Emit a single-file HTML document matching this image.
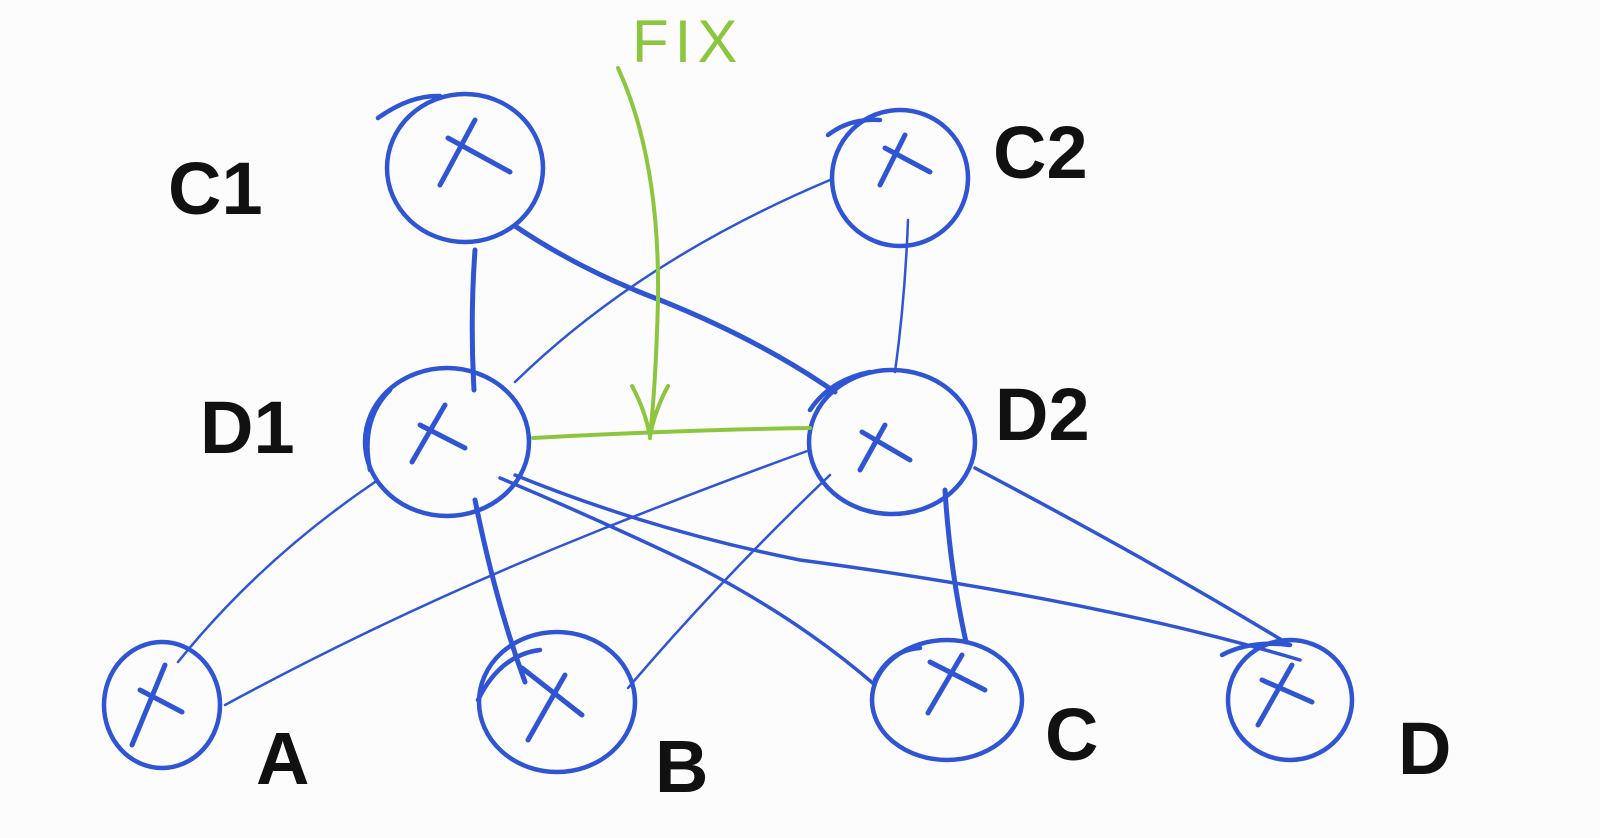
<!DOCTYPE html>
<html><head><meta charset="utf-8"><style>
html,body{margin:0;padding:0;background:#fcfcfc;}
svg{display:block}
text{font-family:"Liberation Sans",sans-serif;}
</style></head><body>
<svg width="1600" height="838" viewBox="0 0 1600 838" xmlns="http://www.w3.org/2000/svg">
<rect width="1600" height="838" fill="#fcfcfc"/>
<g fill="none" stroke="#2f55d4" stroke-linecap="round" stroke-linejoin="round">
<g stroke-width="4.5">
<ellipse cx="465" cy="168" rx="78" ry="74"/>
<path d="M378 118 Q410 95 440 96"/>
<ellipse cx="900" cy="178" rx="68" ry="68"/>
<path d="M828 135 Q850 118 880 120"/>
<ellipse cx="447" cy="442" rx="82" ry="74"/>
<path d="M370 470 Q360 420 390 390"/>
<ellipse cx="892" cy="442" rx="83" ry="72"/>
<path d="M810 410 Q830 380 870 372"/>
<ellipse cx="162" cy="705" rx="58" ry="63"/>
<ellipse cx="557" cy="702" rx="78" ry="70"/>
<path d="M478 700 Q500 655 540 650"/>
<ellipse cx="947" cy="700" rx="75" ry="60"/>
<path d="M875 680 Q890 650 920 648"/>
<ellipse cx="1290" cy="700" rx="62" ry="60"/>
<path d="M1222 655 Q1250 640 1290 645"/>
</g>
<g stroke-width="5">
<path d="M440 185 L475 120 M448 138 L510 172"/>
<path d="M880 185 L905 135 M885 148 L930 172"/>
<path d="M412 462 L445 405 M420 425 L465 448"/>
<path d="M860 470 L885 425 M862 432 L910 460"/>
<path d="M132 745 L165 665 M140 690 L182 712"/>
<path d="M528 740 L565 675 M522 668 L582 715"/>
<path d="M928 713 L962 655 M930 662 L985 690"/>
<path d="M1258 725 L1292 665 M1262 680 L1312 702"/>
</g>
<g stroke-width="5">
<path d="M475 250 Q470 320 474 390"/>
<path d="M515 226 Q580 270 660 300 Q760 340 835 392"/>
<path d="M475 500 Q495 600 525 682"/>
<path d="M945 490 Q950 570 966 642"/>
</g>
<g stroke-width="3.5">
<path d="M500 478 Q600 520 700 568 Q800 620 875 685"/>
<path d="M515 475 Q650 530 800 560 Q1100 600 1300 660"/>
<path d="M975 468 Q1150 560 1290 645"/>
</g>
<g stroke-width="2.5">
<path d="M830 180 Q640 260 515 382"/>
<path d="M908 220 Q905 300 895 372"/>
<path d="M375 482 Q260 560 178 662"/>
<path d="M810 450 Q700 490 600 530 Q400 610 225 705"/>
<path d="M830 475 Q720 580 628 688"/>
</g>
</g>
<g fill="none" stroke="#8cc63f" stroke-width="4" stroke-linecap="round">
<path d="M618 68 Q660 160 658 300 Q656 380 650 438"/>
<path d="M632 386 Q645 410 650 436 Q655 410 668 386"/>
<path d="M533 438 Q680 430 810 428"/>
</g>
<text x="632" y="62" font-size="60" fill="#8cc63f" letter-spacing="6">FIX</text>
<g fill="#111" font-size="74" font-weight="bold">
<text x="168" y="214">C1</text>
<text x="993" y="178">C2</text>
<text x="200" y="453">D1</text>
<text x="995" y="440">D2</text>
<text x="256" y="784">A</text>
<text x="655" y="792">B</text>
<text x="1045" y="760">C</text>
<text x="1398" y="774">D</text>
</g>
</svg>
</body></html>
